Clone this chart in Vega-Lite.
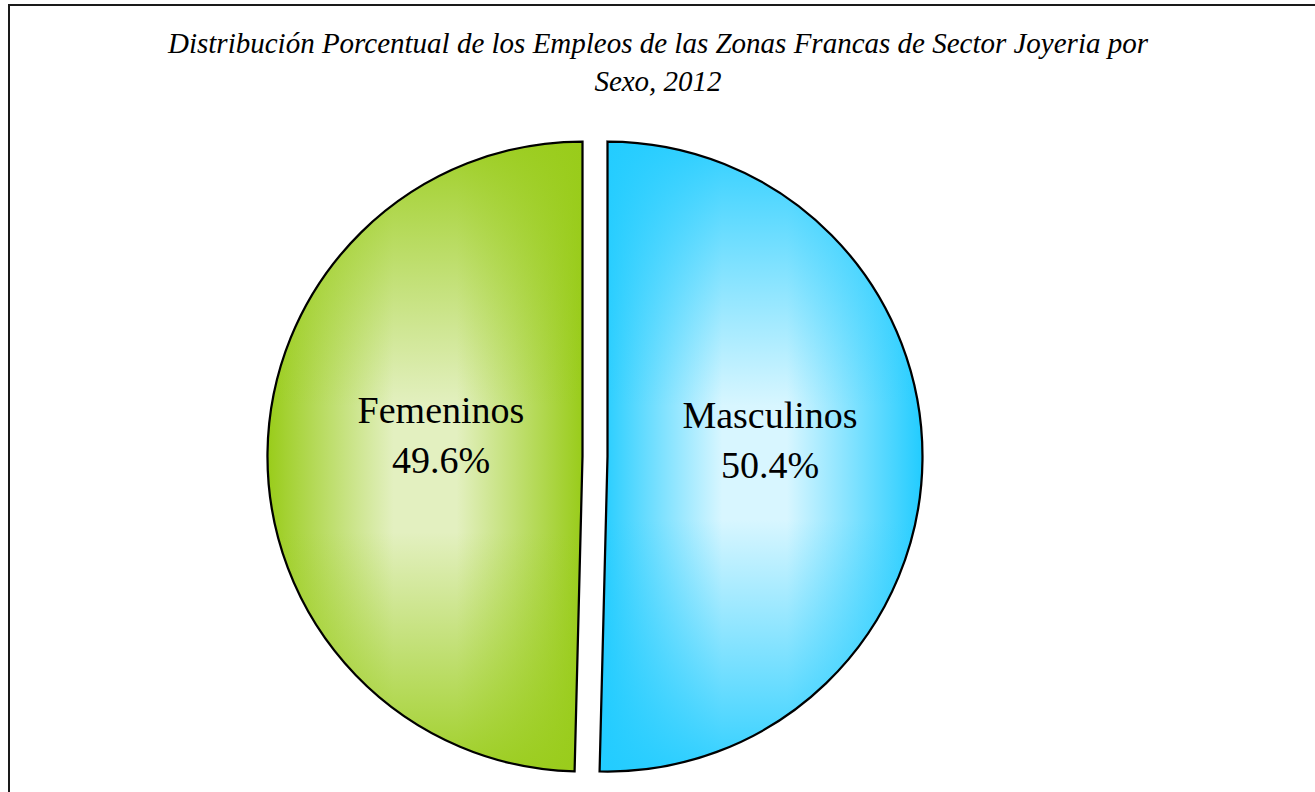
{
  "$schema": "https://vega.github.io/schema/vega-lite/v6.json",
  "width": 1330,
  "height": 903,
  "autosize": "none",
  "padding": {"left": 9, "top": 5, "right": 0, "bottom": 0},
  "background": "white",
  "view": {"stroke": "#1a1a1a", "strokeWidth": 2, "fill": "white"},
  "config": {"view": {"stroke": "#1a1a1a", "strokeWidth": 2}},
  "title": {
    "text": ["Distribución Porcentual de los Empleos de las Zonas Francas de Sector Joyeria por", "Sexo, 2012"],
    "font": "Liberation Serif",
    "fontSize": 29,
    "fontStyle": "italic",
    "fontWeight": "normal",
    "color": "black",
    "lineHeight": 38,
    "anchor": "middle",
    "dx": -16,
    "offset": -92
  },
  "data": {
    "values": [
      {"sexo": "Masculinos", "pct": 50.4, "etiqueta": "Masculinos\n50.4%"},
      {"sexo": "Femeninos", "pct": 49.6, "etiqueta": "Femeninos\n49.6%"}
    ]
  },
  "transform": [
    {"stack": "pct", "groupby": [], "sort": [{"field": "sexo", "order": "descending"}], "as": ["inicio", "fin"]}
  ],
  "layer": [
    {
      "transform": [{"filter": "datum.sexo === 'Masculinos'"}],
      "mark": {
        "type": "arc", "radius": 315, "xOffset": -66.5,
        "fill": {"gradient": "linear", "x1": 0, "y1": 0.5, "x2": 1, "y2": 0.5,
          "stops": [
            {"offset": 0, "color": "#22CCFF"},
            {"offset": 0.38, "color": "#D8F6FF"},
            {"offset": 0.58, "color": "#D8F6FF"},
            {"offset": 1, "color": "#22CCFF"}
          ]}
      },
      "encoding": {
        "theta": {"field": "inicio", "type": "quantitative", "scale": {"domain": [0, 100]}},
        "theta2": {"field": "fin"}
      }
    },
    {
      "transform": [{"filter": "datum.sexo === 'Masculinos'"}],
      "mark": {
        "type": "arc", "radius": 315, "xOffset": -66.5, "stroke": "black", "strokeWidth": 2.25,
        "fill": {"gradient": "linear", "x1": 0.5, "y1": 0, "x2": 0.5, "y2": 1,
          "stops": [
            {"offset": 0, "color": "rgba(34,204,255,0.92)"},
            {"offset": 0.42, "color": "rgba(34,204,255,0)"},
            {"offset": 0.6, "color": "rgba(34,204,255,0)"},
            {"offset": 1, "color": "rgba(34,204,255,0.92)"}
          ]}
      },
      "encoding": {
        "theta": {"field": "inicio", "type": "quantitative", "scale": {"domain": [0, 100]}},
        "theta2": {"field": "fin"}
      }
    },
    {
      "transform": [{"filter": "datum.sexo === 'Femeninos'"}],
      "mark": {
        "type": "arc", "radius": 315, "xOffset": -91.5,
        "fill": {"gradient": "linear", "x1": 0, "y1": 0.5, "x2": 1, "y2": 0.5,
          "stops": [
            {"offset": 0, "color": "#99CC1A"},
            {"offset": 0.4, "color": "#E3F0C0"},
            {"offset": 0.6, "color": "#E3F0C0"},
            {"offset": 1, "color": "#99CC1A"}
          ]}
      },
      "encoding": {
        "theta": {"field": "inicio", "type": "quantitative", "scale": {"domain": [0, 100]}},
        "theta2": {"field": "fin"}
      }
    },
    {
      "transform": [{"filter": "datum.sexo === 'Femeninos'"}],
      "mark": {
        "type": "arc", "radius": 315, "xOffset": -91.5, "stroke": "black", "strokeWidth": 2.25,
        "fill": {"gradient": "linear", "x1": 0.5, "y1": 0, "x2": 0.5, "y2": 1,
          "stops": [
            {"offset": 0, "color": "rgba(153,204,26,0.92)"},
            {"offset": 0.42, "color": "rgba(153,204,26,0)"},
            {"offset": 0.62, "color": "rgba(153,204,26,0)"},
            {"offset": 1, "color": "rgba(153,204,26,0.92)"}
          ]}
      },
      "encoding": {
        "theta": {"field": "inicio", "type": "quantitative", "scale": {"domain": [0, 100]}},
        "theta2": {"field": "fin"}
      }
    },
    {
      "mark": {
        "type": "text", "radius": 164.5, "xOffset": -68.5, "yOffset": -42,
        "font": "Liberation Serif", "fontSize": 38, "lineHeight": 50, "lineBreak": "\n",
        "baseline": "middle", "align": "center", "fill": "black"
      },
      "encoding": {
        "theta": {"field": "pct", "type": "quantitative", "stack": true, "scale": {"domain": [0, 100]}},
        "order": {"field": "sexo", "sort": "descending"},
        "text": {"field": "etiqueta"}
      }
    }
  ]
}
